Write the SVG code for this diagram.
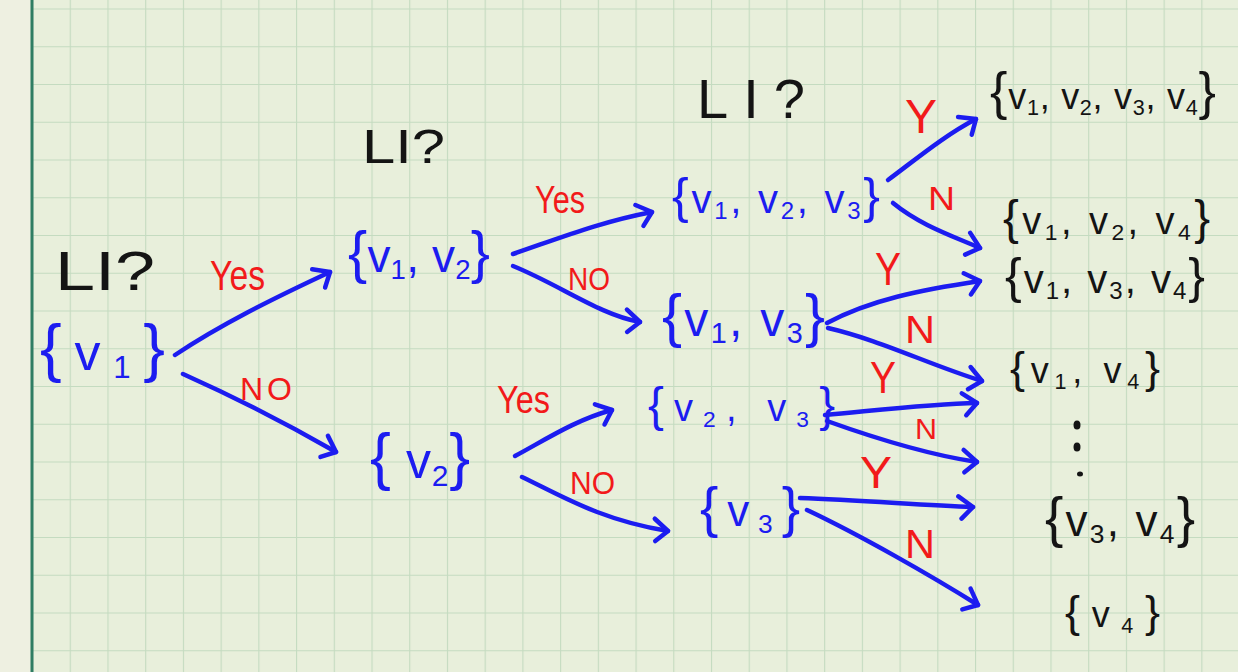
<svg xmlns="http://www.w3.org/2000/svg" width="1238" height="672" viewBox="0 0 1238 672">
<defs>
<style>
text{font-family:"Liberation Sans","DejaVu Sans",Arial,sans-serif;}
.blue{fill:#1c1cf0;}
.black{fill:#141414;}
.red{fill:#f21a1a;}
.br{font-size:1.25em;}
.br2{font-size:1.45em;}
.sb{font-size:0.6em;}
.conn path{fill:none;stroke:#1c1cf0;stroke-width:4.5;stroke-linecap:round;stroke-linejoin:round;}
</style>
<pattern id="grid" patternUnits="userSpaceOnUse" x="32" y="8.5" width="37.72" height="37.75">
<rect width="37.72" height="37.75" fill="#e8efdb"/>
<path d="M0,0 H37.72 M0,0 V37.75" stroke="#c4dbc0" stroke-width="2.2" fill="none"/>
</pattern>
<marker id="ah" markerUnits="userSpaceOnUse" orient="auto" markerWidth="30" markerHeight="30" refX="0" refY="0" overflow="visible">
<path d="M-15,-10 L0,0 L-11,12" fill="none" stroke="#1c1cf0" stroke-width="4.5" stroke-linecap="round" stroke-linejoin="round"/>
</marker>
</defs>
<rect x="0" y="0" width="1238" height="672" fill="#eef0e1"/>
<rect x="32" y="0" width="1206" height="672" fill="url(#grid)"/>
<rect x="30.5" y="0" width="3" height="672" fill="#2f7d63"/>

<g id="labels-li">
<text class="black" x="55" y="290" font-size="56" textLength="100" lengthAdjust="spacingAndGlyphs">LI?</text>
<text class="black" x="362" y="163" font-size="48" textLength="83" lengthAdjust="spacingAndGlyphs">LI?</text>
<text class="black" x="697" y="118" font-size="56" textLength="108" lengthAdjust="spacing">LI?</text>
</g>

<g class="conn" id="connectors">
<path d="M175,355 C220,325 270,300 330,272" marker-end="url(#ah)"/>
<path d="M183,374 C230,395 280,420 336,452" marker-end="url(#ah)"/>
<path d="M513,254 C560,238 600,222 652,212" marker-end="url(#ah)"/>
<path d="M513,266 C560,285 600,315 640,322" marker-end="url(#ah)"/>
<path d="M515,456 C545,440 575,420 612,410" marker-end="url(#ah)"/>
<path d="M522,477 C560,495 600,520 668,531" marker-end="url(#ah)"/>
<path d="M888,180 C915,160 945,135 976,119" marker-end="url(#ah)"/>
<path d="M893,203 C920,225 950,235 980,248" marker-end="url(#ah)"/>
<path d="M827,323 C870,300 920,290 980,281" marker-end="url(#ah)"/>
<path d="M828,328 C880,340 930,365 982,381" marker-end="url(#ah)"/>
<path d="M825,415 C880,410 930,404 977,403" marker-end="url(#ah)"/>
<path d="M827,421 C880,440 930,455 977,462" marker-end="url(#ah)"/>
<path d="M800,498 C860,500 920,505 973,507" marker-end="url(#ah)"/>
<path d="M807,510 C860,535 930,575 978,605" marker-end="url(#ah)"/>
</g>

<g id="edge-labels">
<text class="red" x="210" y="290" font-size="42" textLength="55" lengthAdjust="spacingAndGlyphs">Yes</text>
<text class="red" x="240" y="400" font-size="32" textLength="52" lengthAdjust="spacing">NO</text>
<text class="red" x="535" y="213" font-size="38" textLength="50" lengthAdjust="spacingAndGlyphs">Yes</text>
<text class="red" x="568" y="290" font-size="32" textLength="42" lengthAdjust="spacingAndGlyphs">NO</text>
<text class="red" x="497" y="413" font-size="38" textLength="53" lengthAdjust="spacingAndGlyphs">Yes</text>
<text class="red" x="570" y="494" font-size="32" textLength="45" lengthAdjust="spacingAndGlyphs">NO</text>
<text class="red" x="905" y="133" font-size="48" textLength="32" lengthAdjust="spacingAndGlyphs">Y</text>
<text class="red" x="928" y="210" font-size="34" textLength="27" lengthAdjust="spacingAndGlyphs">N</text>
<text class="red" x="875" y="285" font-size="46" textLength="26" lengthAdjust="spacingAndGlyphs">Y</text>
<text class="red" x="905" y="343" font-size="38" textLength="30" lengthAdjust="spacingAndGlyphs">N</text>
<text class="red" x="870" y="393" font-size="44" textLength="26" lengthAdjust="spacingAndGlyphs">Y</text>
<text class="red" x="915" y="439" font-size="30" textLength="22" lengthAdjust="spacingAndGlyphs">N</text>
<text class="red" x="860" y="488" font-size="44" textLength="32" lengthAdjust="spacingAndGlyphs">Y</text>
<text class="red" x="905" y="558" font-size="40" textLength="30" lengthAdjust="spacingAndGlyphs">N</text>
</g>

<g id="n-v1"><text class="blue" x="40" y="370" font-size="52" textLength="125" lengthAdjust="spacing"><tspan class="br">{</tspan>v<tspan class="sb" dy="8">1</tspan><tspan class="br" dy="-8">}</tspan></text></g>
<g id="n-v1v2"><text class="blue" x="348" y="272" font-size="46" textLength="142" lengthAdjust="spacing"><tspan class="br">{</tspan>v<tspan class="sb" dy="7">1</tspan><tspan dy="-7">, v</tspan><tspan class="sb" dy="7">2</tspan><tspan class="br" dy="-7">}</tspan></text></g>
<g id="n-v2"><text class="blue" x="370" y="478" font-size="50" textLength="100" lengthAdjust="spacing"><tspan class="br">{</tspan> v<tspan class="sb" dy="8">2</tspan><tspan class="br" dy="-8">}</tspan></text></g>
<g id="n-v1v2v3"><text class="blue" x="672" y="213" font-size="40" textLength="208" lengthAdjust="spacing"><tspan class="br">{</tspan>v<tspan class="sb" dy="6">1</tspan><tspan dy="-6">, v</tspan><tspan class="sb" dy="6">2</tspan><tspan dy="-6">, v</tspan><tspan class="sb" dy="6">3</tspan><tspan class="br" dy="-6">}</tspan></text></g>
<g id="n-v1v3"><text class="blue" x="662" y="336" font-size="48" textLength="163" lengthAdjust="spacing"><tspan class="br">{</tspan>v<tspan class="sb" dy="7">1</tspan><tspan dy="-7">, v</tspan><tspan class="sb" dy="7">3</tspan><tspan class="br" dy="-7">}</tspan></text></g>
<g id="n-v2v3"><text class="blue" x="648" y="421" font-size="38" textLength="187" lengthAdjust="spacing"><tspan class="br">{</tspan>v<tspan class="sb" dy="6">2</tspan><tspan dy="-6">, v</tspan><tspan class="sb" dy="6">3</tspan><tspan class="br" dy="-6">}</tspan></text></g>
<g id="n-v3"><text class="blue" x="700" y="526" font-size="44" textLength="100" lengthAdjust="spacing"><tspan class="br">{</tspan>v<tspan class="sb" dy="7">3</tspan><tspan class="br" dy="-7">}</tspan></text></g>

<g id="n-v1v2v3v4"><text class="black" x="990" y="109" font-size="36" textLength="226" lengthAdjust="spacing"><tspan class="br2">{</tspan>v<tspan class="sb" dy="6">1</tspan><tspan dy="-6">, v</tspan><tspan class="sb" dy="6">2</tspan><tspan dy="-6">, v</tspan><tspan class="sb" dy="6">3</tspan><tspan dy="-6">, v</tspan><tspan class="sb" dy="6">4</tspan><tspan class="br2" dy="-6">}</tspan></text></g>
<g id="n-v1v2v4"><text class="black" x="1003" y="234" font-size="38" textLength="207" lengthAdjust="spacing"><tspan class="br">{</tspan>v<tspan class="sb" dy="6">1</tspan><tspan dy="-6">, v</tspan><tspan class="sb" dy="6">2</tspan><tspan dy="-6">, v</tspan><tspan class="sb" dy="6">4</tspan><tspan class="br" dy="-6">}</tspan></text></g>
<g id="n-v1v3v4"><text class="black" x="1005" y="293" font-size="40" textLength="200" lengthAdjust="spacing"><tspan class="br">{</tspan>v<tspan class="sb" dy="6">1</tspan><tspan dy="-6">, v</tspan><tspan class="sb" dy="6">3</tspan><tspan dy="-6">, v</tspan><tspan class="sb" dy="6">4</tspan><tspan class="br" dy="-6">}</tspan></text></g>
<g id="n-v1v4"><text class="black" x="1010" y="383" font-size="36" textLength="150" lengthAdjust="spacing"><tspan class="br">{</tspan>v<tspan class="sb" dy="6">1</tspan><tspan dy="-6">, v</tspan><tspan class="sb" dy="6">4</tspan><tspan class="br" dy="-6">}</tspan></text></g>
<g id="n-dots" fill="#141414">
<ellipse cx="1077" cy="425" rx="3.5" ry="4.5"/>
<ellipse cx="1077" cy="447" rx="3.5" ry="4.5"/>
<ellipse cx="1080" cy="474" rx="3" ry="2.5"/>
</g>
<g id="n-v3v4"><text class="black" x="1045" y="536" font-size="44" textLength="150" lengthAdjust="spacing"><tspan class="br">{</tspan>v<tspan class="sb" dy="7">3</tspan><tspan dy="-7">, v</tspan><tspan class="sb" dy="7">4</tspan><tspan class="br" dy="-7">}</tspan></text></g>
<g id="n-v4"><text class="black" x="1065" y="627" font-size="36" textLength="95" lengthAdjust="spacing"><tspan class="br">{</tspan>v<tspan class="sb" dy="6">4</tspan><tspan class="br" dy="-6">}</tspan></text></g>
</svg>
